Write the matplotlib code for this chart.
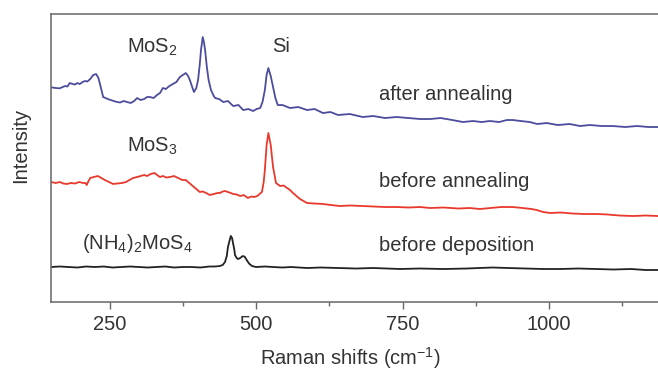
import matplotlib
matplotlib.use("Agg")
import matplotlib.pyplot as plt
from matplotlib.ticker import MultipleLocator

plt.rcParams["font.family"] = ["Liberation Sans", "DejaVu Sans"]
plt.rcParams["mathtext.default"] = "regular"

# after annealing (MoS2 + Si)
after_x = [150, 158, 165, 170, 174, 178, 182, 187, 191, 195, 199, 204, 208, 212, 217, 222, 227,
           231, 234, 237, 239, 243, 247, 252, 257, 263, 268, 274, 280, 286, 292, 297, 303, 309,
           314, 319, 325, 331, 336, 341, 346, 352, 358, 364, 370, 375, 380, 384, 387, 391, 394,
           398, 401, 404, 406, 409, 411, 413, 416, 419, 423, 427, 430, 437, 444, 452, 461, 470,
           478, 487, 495, 501, 507, 511, 515, 518, 521, 523, 525, 529, 533, 537, 545, 558, 572,
           587, 600, 614, 627, 640, 660, 682, 700, 720, 740, 760, 780, 797, 815, 835, 853, 870,
           885, 899, 915, 928, 938, 952, 967, 980, 996, 1015, 1035, 1053, 1070, 1090, 1109, 1130,
           1150, 1170, 1186]
after_y = [214.7, 214, 213.7, 215, 216, 215.5, 219, 218, 217.5, 219, 218, 220, 221, 220.5, 223,
           227, 228, 224, 217, 210, 205, 204, 203, 202, 201, 200, 199.5, 201, 200, 199, 201, 204,
           202, 203, 205, 205, 204, 207, 209, 214, 213, 216, 218, 220, 225, 227, 229, 226, 222,
           215, 210, 214, 222, 238, 252, 265, 260, 252, 235, 222, 212, 207, 204, 203, 200, 201,
           196, 197, 192, 193, 191, 193, 194, 200, 212, 227, 234, 230, 226, 215, 204, 197, 197,
           194, 195, 192, 193, 189, 190, 187, 188, 185, 186, 184, 185, 184, 183, 183, 184, 182,
           180, 181, 180, 181, 180, 182, 182, 181, 180, 178, 179, 177, 178, 176, 177, 176, 176,
           175, 176, 175, 175]

# before annealing (MoS3 + Si)
before_x = [150, 158, 165, 171, 177, 184, 191, 198, 205, 209, 211, 214, 217, 223, 230, 236, 242,
            249, 256, 263, 271, 278, 284, 290, 297, 303, 309, 314, 320, 327, 331, 336, 341, 347,
            353, 360, 367, 374, 380, 384, 390, 396, 400, 404, 409, 415, 421, 428, 434, 438, 443,
            447, 452, 457, 461, 467, 473, 479, 486, 492, 497, 502, 506, 510, 513, 515, 518, 521,
            523, 525, 529, 534, 541, 547, 553, 558, 563, 569, 575, 581, 587, 600, 614, 628, 643,
            660, 682, 700, 720, 740, 760, 780, 797, 820, 845, 865, 882, 900, 918, 938, 955, 970,
            979, 990, 1002, 1020, 1040, 1060, 1082, 1100, 1120, 1143, 1165, 1186]
before_y = [120, 119, 120, 118.5, 118, 119, 118.5, 120, 119, 119, 117, 121, 124, 125, 126, 124,
            122, 120, 118, 118.5, 119, 120, 122, 124, 125, 126, 127, 126, 128, 129, 127, 125,
            126, 124.5, 125, 126, 124, 122, 122, 120, 117, 114, 112, 110, 110.5, 109, 107, 108,
            109, 109, 110.5, 111, 110, 109, 108, 107.5, 106, 107, 104, 105.5, 105, 106, 108,
            110, 120, 132, 157, 169, 163, 157, 135, 119, 116, 116.5, 114, 112, 109, 106, 103,
            101, 99, 98.5, 98, 97, 96, 96.5, 96, 95.5, 95, 95, 94.5, 95, 94, 94.5, 93.5, 94,
            93, 94, 95, 95, 94, 93, 92, 90, 89, 89.5, 88.5, 88, 88, 87.5, 86.5, 86, 86.5, 86]

# before deposition ((NH4)2MoS4)
precursor_x = [150, 165, 180, 195, 210, 225, 240, 255, 270, 285, 300, 315, 330, 345, 360, 375,
               390, 405, 420, 430, 438, 443, 447, 450, 452, 455, 457, 459, 461, 463, 464, 467,
               469, 473, 476, 478, 481, 484, 488, 493, 500, 515, 529, 545, 560, 587, 610, 640,
               670, 700, 746, 780, 820, 860, 880, 904, 930, 960, 990, 1019, 1050, 1080, 1110,
               1140, 1165, 1186]
precursor_y = [35, 35.5, 35, 34.5, 35.5, 35, 35.5, 34.5, 35, 35.5, 35, 34.5, 35, 35.5, 34.5, 35,
               35, 34.5, 35.5, 35.5, 36, 37, 40, 46, 55, 62, 66, 64, 58, 52, 47, 44, 43, 44,
               45.5, 46, 45, 42, 38.5, 36, 35, 35.5, 35, 34.5, 35, 34, 34.5, 34, 33.5, 34, 33,
               33.5, 33, 33.5, 34, 34.5, 34, 33.5, 33, 33, 33.5, 33, 32.5, 33, 32, 32]

x_ticks = [250, 500, 750, 1000]

fig = plt.figure(figsize=(6.58, 3.74), dpi=100)
ax = fig.add_axes([0.0775, 0.1925, 0.9225, 0.770])

ax.plot(after_x, after_y, color="#4b4d9c", linewidth=1.3)
ax.plot(before_x, before_y, color="#e8392c", linewidth=1.3)
ax.plot(precursor_x, precursor_y, color="#222222", linewidth=1.3)

ax.set_xlim(150, 1186)
ax.set_ylim(0, 288)
ax.set_xticks(x_ticks)
ax.xaxis.set_minor_locator(MultipleLocator(125))
ax.set_yticks([])
ax.tick_params(axis="x", which="major", direction="out", length=5, width=1,
               color="#666666", labelsize=14.5, labelcolor="#333333", pad=4)
ax.tick_params(axis="x", which="minor", direction="out", length=3, width=1, color="#666666")

for side in ["left", "bottom", "top"]:
    ax.spines[side].set_color("#666666")
    ax.spines[side].set_linewidth(1.1)
ax.spines["right"].set_visible(False)

txt = dict(fontsize=14.5, color="#333333", va="center", ha="left")
ax.text(280, 255, "MoS$_2$", **txt)
ax.text(527, 256, "Si", **txt)
ax.text(710, 208, "after annealing", **txt)
ax.text(280, 156, "MoS$_3$", **txt)
ax.text(710, 121, "before annealing", **txt)
ax.text(203, 59, "(NH$_4$)$_2$MoS$_4$", **txt)
ax.text(710, 57, "before deposition", **txt)

fig.text(0.031, 0.61, "Intensity", rotation=90, fontsize=14.5, color="#333333",
         ha="center", va="center")
fig.text(0.532, 0.043, "Raman shifts (cm$^{-1}$)", fontsize=14.5, color="#333333",
         ha="center", va="center")

fig.savefig("out.png", dpi=100)
